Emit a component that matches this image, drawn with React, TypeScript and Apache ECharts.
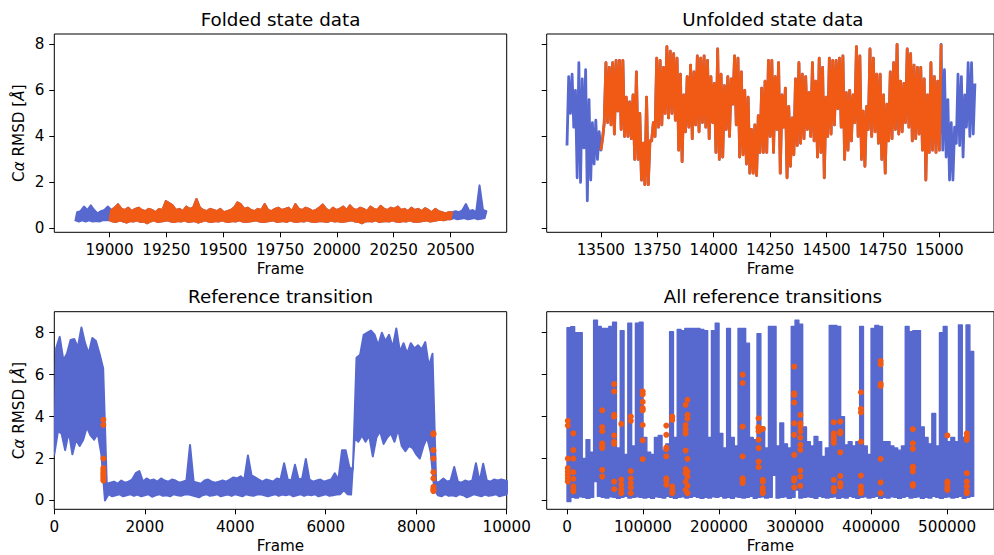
import React, { useEffect, useRef } from "react";
import * as echarts from "echarts";

// ---------- Folded state data (frames 18850..20650, step 15) ----------
const FOLD_START = 18850;
const FOLD_STEP = 15;
const foldBlueStartHi = [0.7, 0.75, 0.95, 0.8, 1.0, 0.8, 0.65, 0.75, 0.8, 0.95];
const foldBlueStartLo = [0.35, 0.3, 0.35, 0.3, 0.35, 0.3, 0.32, 0.3, 0.35, 0.35];
const foldOrangeHi = [
  0.8, 0.9, 1.05, 0.85, 0.8, 0.9, 0.75, 0.85, 0.9, 0.8,
  0.75, 0.85, 0.8, 0.7, 0.85, 0.8, 1.19, 1.1, 1.0, 0.8,
  0.85, 0.75, 0.95, 0.85, 0.9, 1.28, 0.9, 0.8, 0.75, 0.85,
  0.8, 0.75, 0.85, 0.7, 0.75, 0.8, 0.9, 1.13, 1.05, 0.85,
  0.9, 0.8, 0.75, 0.85, 0.8, 1.06, 0.8, 0.75, 0.85, 0.9,
  0.8, 0.85, 0.9, 0.75, 1.06, 0.85, 0.8, 0.9, 0.85, 0.75,
  0.8, 0.9, 1.04, 0.85, 0.75, 0.9, 0.8, 0.85, 0.95, 0.8,
  1.0, 0.85, 0.8, 0.9, 0.85, 0.75, 0.95, 0.85, 0.8, 0.98,
  0.85, 0.8, 0.9, 0.85, 0.95, 0.8, 0.85, 0.75, 0.9, 0.8,
  0.85, 0.75, 0.88, 0.8, 0.7, 0.85, 0.75, 0.7, 0.65, 0.7,
];
const foldOrangeLo = [
  0.35, 0.3, 0.28, 0.35, 0.3, 0.25, 0.32, 0.3, 0.35, 0.28,
  0.3, 0.22, 0.3, 0.35, 0.28, 0.3, 0.32, 0.35, 0.3, 0.28,
  0.32, 0.3, 0.35, 0.28, 0.3, 0.32, 0.25, 0.3, 0.35, 0.3,
  0.28, 0.32, 0.3, 0.35, 0.3, 0.28, 0.32, 0.3, 0.35, 0.3,
  0.28, 0.3, 0.32, 0.35, 0.3, 0.28, 0.3, 0.32, 0.35, 0.28,
  0.3, 0.32, 0.28, 0.35, 0.3, 0.28, 0.32, 0.3, 0.35, 0.3,
  0.28, 0.3, 0.32, 0.3, 0.28, 0.35, 0.3, 0.32, 0.28, 0.3,
  0.32, 0.35, 0.3, 0.28, 0.22, 0.3, 0.32, 0.3, 0.35, 0.28,
  0.3, 0.32, 0.3, 0.35, 0.3, 0.28, 0.32, 0.3, 0.35, 0.3,
  0.28, 0.3, 0.32, 0.35, 0.3, 0.32, 0.35, 0.38, 0.35, 0.4,
];
const foldBlueEndHi = [0.7, 0.75, 0.7, 0.8, 1.06, 0.75, 0.8, 0.7, 1.87, 0.8, 0.75];
const foldBlueEndLo = [0.4, 0.45, 0.4, 0.42, 0.45, 0.4, 0.42, 0.45, 0.4, 0.42, 0.45];
const foldSelected = [19000, 20500];
const foldTicks = [19000, 19250, 19500, 19750, 20000, 20250, 20500];

// ---------- Unfolded state data (frames 13350..15150, step 15) ----------
const UNF_START = 13350;
const UNF_STEP = 15;
const unfHi = [
  6.6, 6.7, 6.0, 7.2, 6.5, 6.9, 5.6, 4.6, 4.7, 4.2,
  3.9, 7.2, 7.0, 7.2, 7.3, 7.3, 7.3, 5.7, 5.5, 5.8,
  6.8, 5.0, 3.7, 5.7, 3.8, 4.6, 7.4, 7.3, 7.0, 7.9,
  7.7, 7.6, 7.4, 6.7, 5.8, 6.6, 7.1, 6.8, 7.5, 7.4,
  7.5, 7.3, 6.6, 6.3, 7.8, 6.7, 6.2, 6.6, 6.5, 7.5,
  7.4, 6.8, 6.0, 5.7, 4.3, 4.5, 4.9, 6.1, 6.4, 7.3,
  7.3, 6.6, 7.2, 5.8, 6.1, 5.3, 4.8, 6.5, 7.2, 6.7,
  6.6, 5.9, 7.2, 6.4, 7.4, 7.0, 5.7, 7.4, 7.3, 7.3,
  7.4, 7.5, 5.9, 6.0, 5.8, 7.9, 7.5, 5.1, 5.3, 7.8,
  7.4, 6.7, 6.7, 5.8, 5.4, 6.8, 7.2, 8.0, 6.4, 6.3,
  7.8, 7.6, 7.1, 7.0, 7.0, 6.5, 5.8, 7.2, 6.6, 6.4,
  8.0, 6.9, 5.6, 4.6, 4.4, 6.7, 6.6, 5.8, 7.2, 7.2,
  6.3,
];
const unfLo = [
  3.6, 5.0, 4.4, 2.2, 2.0, 3.5, 1.2, 2.1, 2.8, 3.0,
  3.4, 4.6, 4.6, 4.5, 4.1, 5.1, 4.3, 4.0, 4.0, 3.9,
  3.0, 3.0, 2.1, 1.9, 1.9, 3.8, 4.0, 4.4, 4.5, 5.0,
  4.8, 5.0, 4.7, 3.4, 2.9, 4.2, 4.4, 3.9, 4.5, 4.2,
  4.6, 4.4, 3.9, 4.6, 3.3, 3.0, 3.1, 4.3, 4.0, 5.4,
  4.5, 3.1, 3.2, 2.8, 2.4, 2.4, 2.3, 3.3, 3.3, 3.3,
  4.0, 3.3, 4.3, 2.4, 4.4, 2.2, 2.7, 3.2, 3.6, 3.7,
  3.9, 4.3, 4.0, 3.8, 3.1, 3.3, 2.2, 4.0, 4.1, 4.5,
  5.2, 4.4, 3.0, 3.4, 3.8, 4.6, 4.0, 3.0, 2.7, 4.3,
  4.0, 4.2, 3.7, 3.0, 2.4, 3.8, 3.9, 4.3, 4.1, 4.2,
  4.6, 4.4, 3.8, 3.9, 4.1, 3.4, 2.1, 3.3, 3.4, 3.3,
  3.4, 3.4, 3.1, 2.1, 2.1, 3.7, 3.6, 3.1, 4.4, 4.0,
  4.1,
];
const unfSelected = [13500, 15000];
const unfTicks = [13500, 13750, 14000, 14250, 14500, 14750, 15000];

// ---------- Reference transition (frames 0..10000, step 80) ----------
const REF_START = 0;
const REF_STEP = 80;
const refHi = [
  7.25, 7.8, 6.7, 7.0, 7.65, 7.7, 7.3, 8.25, 7.5, 7.0, 7.75, 7.6, 7.0, 6.3,
  0.8,
  0.85, 0.9, 0.8, 0.95, 0.85, 0.9, 1.0, 1.3, 1.4, 0.9,
  1.05, 0.95, 1.0, 0.9, 1.05, 0.95, 0.9, 1.0, 0.95, 0.85,
  0.9, 0.95, 2.65, 0.9, 0.85, 0.8, 0.95, 1.0, 0.9, 0.85,
  0.9, 0.95, 0.9, 1.0, 1.1, 1.05, 1.15, 1.0, 2.15, 1.2,
  1.1, 1.0, 0.9, 1.0, 0.95, 0.9, 1.05, 1.0, 1.78, 1.0,
  0.95, 1.7, 1.0, 1.05, 1.98, 1.0, 0.9, 0.95, 1.0, 0.9,
  0.95, 1.0, 1.3, 1.0, 2.4, 2.4, 1.6, 1.45,
  6.8, 6.95, 7.9, 8.0, 8.1, 7.9, 7.4, 8.0, 7.6, 7.9, 7.3,
  8.2, 7.1, 7.5, 7.0, 7.5, 7.25, 7.4, 7.2, 7.55, 6.4, 7.0,
  0.85, 0.9, 1.05, 0.9, 0.95, 1.6, 0.9, 0.85, 0.95, 0.9, 0.95,
  1.78, 0.9, 1.75, 0.95, 0.9, 1.0, 0.95, 1.0, 0.95, 0.9,
];
const refLo = [
  2.2, 3.3, 3.2, 2.4, 3.3, 2.2, 2.9, 2.6, 2.9, 3.5, 3.1, 2.9, 3.2, 2.2,
  0.0,
  0.3, 0.2, 0.25, 0.3, 0.2, 0.25, 0.3, 0.22, 0.28, 0.2,
  0.25, 0.3, 0.18, 0.25, 0.3, 0.22, 0.25, 0.2, 0.3, 0.25,
  0.22, 0.28, 0.3, 0.25, 0.2, 0.15, 0.25, 0.3, 0.22, 0.25,
  0.3, 0.2, 0.25, 0.28, 0.22, 0.3, 0.25, 0.2, 0.3, 0.25,
  0.22, 0.28, 0.3, 0.25, 0.2, 0.25, 0.3, 0.22, 0.28, 0.25,
  0.3, 0.2, 0.25, 0.3, 0.22, 0.28, 0.25, 0.3, 0.2, 0.25,
  0.3, 0.22, 0.25, 0.28, 0.3, 0.5, 0.3, 0.28,
  3.0, 2.8, 3.1, 2.8, 3.1, 2.1, 3.0, 3.3, 2.7, 3.0, 3.2,
  2.8, 3.4, 2.6, 2.35, 2.6, 2.5, 2.2, 2.0, 2.6, 3.0, 2.3,
  0.5, 0.25, 0.2, 0.3, 0.22, 0.25, 0.2, 0.3, 0.25, 0.15, 0.22,
  0.3, 0.25, 0.2, 0.28, 0.22, 0.25, 0.3, 0.2, 0.25, 0.3,
];
const refDotFrames = [1085, 8380];
const refDotValues = [
  [3.85, 3.6, 2.0, 1.55, 1.45, 1.35, 1.25, 1.15, 1.05, 0.95],
  [3.2, 3.15, 2.4, 2.0, 1.35, 1.05, 0.65, 0.55, 0.5, 0.45],
];
const refTicks = [0, 2000, 4000, 6000, 8000, 10000];

// ---------- All reference transitions (frames 0..535000, step 5000) ----------
const ALL_START = 0;
const ALL_STEP = 5000;
const allHi = [
  8.24, 8.29, 8.0, 8.0, 2.0, 2.9, 2.3, 8.6, 8.3, 8.2,
  8.2, 8.3, 8.5, 2.5, 8.1, 2.2, 8.45, 2.6, 8.45, 8.5,
  3.0, 2.3, 2.2, 3.0, 3.1, 2.4, 2.7, 8.05, 3.0, 8.15,
  8.1, 8.2, 8.2, 8.2, 8.2, 8.15, 8.1, 3.0, 8.1, 8.45,
  3.2, 2.5, 8.2, 3.0, 2.6, 8.2, 8.2, 7.5, 3.0, 2.9,
  7.95, 3.5, 2.5, 8.3, 8.3, 2.6, 3.7, 2.7, 2.5, 8.3,
  8.6, 8.4, 3.5, 2.8, 2.6, 3.05, 2.8, 2.1, 2.5, 8.35,
  8.35, 8.3, 4.0, 2.65, 2.8, 2.6, 2.8, 8.3, 2.6, 2.2,
  8.2, 8.35, 8.3, 2.8, 2.8, 2.6, 2.5, 2.4, 2.6, 8.3,
  8.05, 8.1, 8.1, 3.5, 3.0, 2.7, 4.15, 2.6, 8.0, 8.3,
  2.8, 3.0, 2.8, 8.37, 3.0, 8.37, 7.1,
];
const allLo = [
  -0.05, 0.15, 0.12, 0.18, 0.15, 0.1, 0.15, 0.9, 0.2, 0.15,
  0.12, 0.18, 0.15, 0.1, 0.15, 0.2, 0.12, 0.15, 0.18, 0.15,
  0.12, 0.15, 0.1, 0.18, 0.15, 0.12, 0.2, 0.15, 0.1, 0.15,
  0.18, 0.12, 0.15, 0.2, 0.15, 0.1, 0.15, 0.12, 0.18, 0.15,
  0.2, 0.12, 0.15, 0.1, 0.18, 0.15, 0.12, 0.15, 0.2, 0.1,
  0.15, 0.18, 0.12, 0.15, 1.2, 0.12, 0.15, 0.18, 0.1, 0.15,
  0.5, 0.12, 0.15, 0.18, 0.15, 0.1, 0.2, 0.15, 0.12, 0.15,
  0.18, 0.1, 0.15, 0.12, 0.2, 0.15, 0.1, 0.15, 0.18, 0.12,
  0.15, 0.2, 0.1, 0.15, 0.12, 0.18, 0.15, 0.1, 0.15, 0.2,
  0.12, 0.15, 0.18, 0.1, 0.15, 0.12, 0.2, 0.15, 0.1, 0.15,
  0.18, 0.12, 0.15, 0.2, 0.1, 0.15, 0.2,
];
const allDotFrames = [
  1000, 8300, 46300, 62000, 71400, 83900, 99500, 130600, 138400, 156000, 158500,
  231000, 252000, 257500, 298900, 307000, 351000, 359500, 386700, 412600, 455000,
  500400, 526000,
];
const allDotValues = [
  [3.8, 3.57, 2.0, 1.54, 1.38, 1.22, 1.06, 0.9],
  [3.2, 2.4, 2.0, 1.35, 1.03, 0.67, 0.5, 0.43],
  [4.3, 3.5, 3.3, 2.73, 2.6, 2.5, 1.46, 1.14],
  [5.55, 5.2, 4.08, 4.0, 3.1, 2.8, 2.7, 0.9, 0.54],
  [3.65, 1.0, 0.76, 0.54, 0.35],
  [4.0, 3.8, 1.4, 1.06, 0.83, 0.62, 0.35],
  [5.2, 5.06, 4.7, 4.4, 4.3, 3.6, 2.87, 1.97],
  [3.57, 3.13, 2.52, 2.45, 2.1, 1.06, 0.94, 0.75],
  [4.0, 3.84, 0.67, 0.5, 0.35],
  [4.56, 3.6, 3.4, 3.2, 2.38, 1.5, 1.3, 0.9, 0.5],
  [4.8, 4.08, 3.9, 1.98, 1.38, 1.14, 0.7, 0.35],
  [6.0, 5.6, 3.52, 2.1, 1.06, 0.98, 0.83],
  [3.92, 3.5, 3.44, 3.3, 2.9, 2.5, 1.86, 1.59],
  [3.41, 0.98, 0.9, 0.6, 0.45, 0.35],
  [6.38, 5.11, 5.03, 4.67, 3.68, 3.13, 2.17, 1.06, 0.94, 0.62],
  [4.08, 3.68, 3.52, 3.29, 3.0, 2.65, 2.41, 1.43, 1.14, 0.7],
  [3.73, 3.2, 3.05, 2.89, 2.75, 0.98, 0.59, 0.43],
  [3.76, 3.29, 3.2, 2.29, 1.17, 0.83, 0.67],
  [5.16, 4.37, 4.2, 2.8, 1.19, 0.67, 0.5, 0.35],
  [6.65, 6.49, 5.56, 5.46, 1.98, 0.86, 0.35],
  [3.4, 2.73, 2.46, 1.62, 1.54, 1.38, 0.78, 0.7],
  [3.1, 0.9, 0.8, 0.62, 0.5],
  [3.2, 3.05, 2.89, 1.3, 0.9, 0.67, 0.43, 0.35],
];
const allTicks = [0, 100000, 200000, 300000, 400000, 500000];

const yTicks = [0, 2, 4, 6, 8];
const titles = ["Folded state data", "Unfolded state data", "Reference transition", "All reference transitions"];

const BLUE = "#5768cf";
const ORANGE = "#f05a14";
const FONT = "DejaVu Sans";
const FS = 15.2;
const TITLE_FS = 18.3;

// band polygon: upper edge through the bin maxima, lower edge through the bin minima
function bandPoints(start: number, step: number, lo: number[], hi: number[], from = -Infinity, to = Infinity) {
  const top: number[][] = [];
  const bot: number[][] = [];
  for (let i = 0; i < lo.length; i++) {
    const x = start + i * step;
    if (x < from || x > to) continue;
    bot.push([x, lo[i]]);
    top.push([x + step / 2, hi[i]]);
  }
  return [...top, ...bot.reverse()];
}

// same band but each bin's extremes are held across the bin (step envelope)
function stepBandPoints(start: number, step: number, lo: number[], hi: number[]) {
  const top: number[][] = [];
  const bot: number[][] = [];
  for (let i = 0; i < lo.length; i++) {
    const x = start + i * step;
    top.push([x, hi[i]], [x + step, hi[i]]);
    bot.push([x, lo[i]], [x + step, lo[i]]);
  }
  return [...top, ...bot.reverse()];
}

// trace through the bin minima and maxima in turn
function zig(start: number, step: number, lo: number[], hi: number[], from = -Infinity, to = Infinity) {
  const pts: number[][] = [];
  for (let i = 0; i < lo.length; i++) {
    const x = start + i * step;
    if (x < from || x > to) continue;
    pts.push([x, lo[i]]);
    pts.push([x + step / 2, hi[i]]);
  }
  return pts;
}

function dots(frames: number[], values: number[][]) {
  const pts: number[][] = [];
  frames.forEach((f, i) => values[i].forEach((v) => pts.push([f, v])));
  return pts;
}

const GRIDS = [
  { left: 54.3, top: 34, width: 452.4, height: 198.3 },
  { left: 546.7, top: 34, width: 452.4, height: 198.3 },
  { left: 54.3, top: 311.7, width: 452.4, height: 197.6 },
  { left: 546.7, top: 311.7, width: 452.4, height: 197.6 },
];

function xAx(gi: number, min: number, max: number, ticks: number[]) {
  return {
    type: "value",
    gridIndex: gi,
    min,
    max,
    name: "Frame",
    nameLocation: "middle",
    nameGap: 29,
    nameTextStyle: { fontFamily: FONT, fontSize: FS, color: "#000" },
    axisLine: { show: false, onZero: false },
    axisTick: { show: true, length: 5, lineStyle: { color: "#000", width: 1 }, customValues: ticks },
    axisLabel: {
      customValues: ticks,
      formatter: (v: number) => String(v),
      margin: 10,
      fontFamily: FONT,
      fontSize: FS,
      color: "#000",
    },
    splitLine: { show: false },
  };
}

function yAx(gi: number, min: number, max: number, labels: boolean) {
  return {
    type: "value",
    gridIndex: gi,
    min,
    max,
    name: labels ? "C{i|α} RMSD [{i|Å}]" : "",
    nameLocation: "middle",
    nameGap: 28,
    nameTextStyle: {
      fontFamily: FONT,
      fontSize: FS,
      color: "#000",
      rich: { i: { fontFamily: FONT, fontSize: FS, color: "#000", fontStyle: "italic" } },
    },
    axisLine: { show: false, onZero: false },
    axisTick: { show: true, length: 5, lineStyle: { color: "#000", width: 1 }, customValues: yTicks },
    axisLabel: {
      show: labels,
      customValues: yTicks,
      formatter: (v: number) => String(v),
      margin: 10,
      fontFamily: FONT,
      fontSize: FS,
      color: "#000",
    },
    splitLine: { show: false },
  };
}

function bandSeries(idx: number, pts: number[][], color: string, lw = 2) {
  return {
    type: "custom",
    coordinateSystem: "cartesian2d",
    xAxisIndex: idx,
    yAxisIndex: idx,
    clip: true,
    silent: true,
    data: [pts[0]],
    renderItem: (_params: any, api: any) => ({
      type: "polygon",
      shape: { points: pts.map((p) => api.coord(p)) },
      style: { fill: color, stroke: color, lineWidth: lw, lineJoin: "round" },
    }),
  };
}

function lineSeries(idx: number, data: number[][], color: string, width: number) {
  return {
    type: "line",
    xAxisIndex: idx,
    yAxisIndex: idx,
    data,
    showSymbol: false,
    symbol: "none",
    silent: true,
    clip: true,
    lineStyle: { width, color, join: "round" },
    itemStyle: { color },
  };
}

function scatterSeries(idx: number, data: number[][]) {
  return {
    type: "scatter",
    xAxisIndex: idx,
    yAxisIndex: idx,
    data,
    symbol: "circle",
    symbolSize: 6,
    silent: true,
    itemStyle: { color: ORANGE, opacity: 1 },
    z: 5,
  };
}

export default function App() {
  const ref = useRef<HTMLDivElement>(null);
  useEffect(() => {
    document.body.style.margin = "0";
    const chart = echarts.init(ref.current!, undefined, { renderer: "svg" });

    const foldLo = [...foldBlueStartLo, ...foldOrangeLo, ...foldBlueEndLo];
    const foldHi = [...foldBlueStartHi, ...foldOrangeHi, ...foldBlueEndHi];
    const foldAll = bandPoints(FOLD_START, FOLD_STEP, foldLo, foldHi);
    const foldSel = bandPoints(FOLD_START, FOLD_STEP, foldLo, foldHi, foldSelected[0], foldSelected[1]);
    const unfAll = zig(UNF_START, UNF_STEP, unfLo, unfHi);
    const unfSel = zig(UNF_START, UNF_STEP, unfLo, unfHi, unfSelected[0], unfSelected[1]);
    const refAll = bandPoints(REF_START, REF_STEP, refLo, refHi);
    const allAll = stepBandPoints(ALL_START, ALL_STEP, allLo, allHi);

    const centers = GRIDS.map((g) => g.left + g.width / 2);
    const option = {
      animation: false,
      grid: GRIDS.map((g) => ({ ...g, show: true, borderColor: "#000", borderWidth: 1, backgroundColor: "transparent" })),
      xAxis: [
        xAx(0, 18757, 20747, foldTicks),
        xAx(1, 13260, 15242, unfTicks),
        xAx(2, 0, 10000, refTicks),
        xAx(3, -26750, 561750, allTicks),
      ],
      yAxis: [yAx(0, -0.17, 8.45, true), yAx(1, -0.17, 8.45, false), yAx(2, -0.42, 9.0, true), yAx(3, -0.42, 9.0, false)],
      graphic: titles.map((t, i) => ({
        type: "text",
        x: centers[i],
        y: i < 2 ? 19 : 296.5,
        silent: true,
        style: { text: t, fill: "#000", font: `${TITLE_FS}px "${FONT}"`, align: "center", verticalAlign: "middle" },
      })),
      series: [
        bandSeries(0, foldAll, BLUE),
        bandSeries(0, foldSel, ORANGE),
        lineSeries(1, unfAll, BLUE, 2.8),
        lineSeries(1, unfSel, ORANGE, 2.8),
        bandSeries(2, refAll, BLUE),
        scatterSeries(2, dots(refDotFrames, refDotValues)),
        bandSeries(3, allAll, BLUE, 1.4),
        scatterSeries(3, dots(allDotFrames, allDotValues)),
      ],
    };
    chart.setOption(option as any);
    return () => chart.dispose();
  }, []);
  return <div ref={ref} style={{ position: "absolute", left: 0, top: 0, width: 994, height: 555 }} />;
}
